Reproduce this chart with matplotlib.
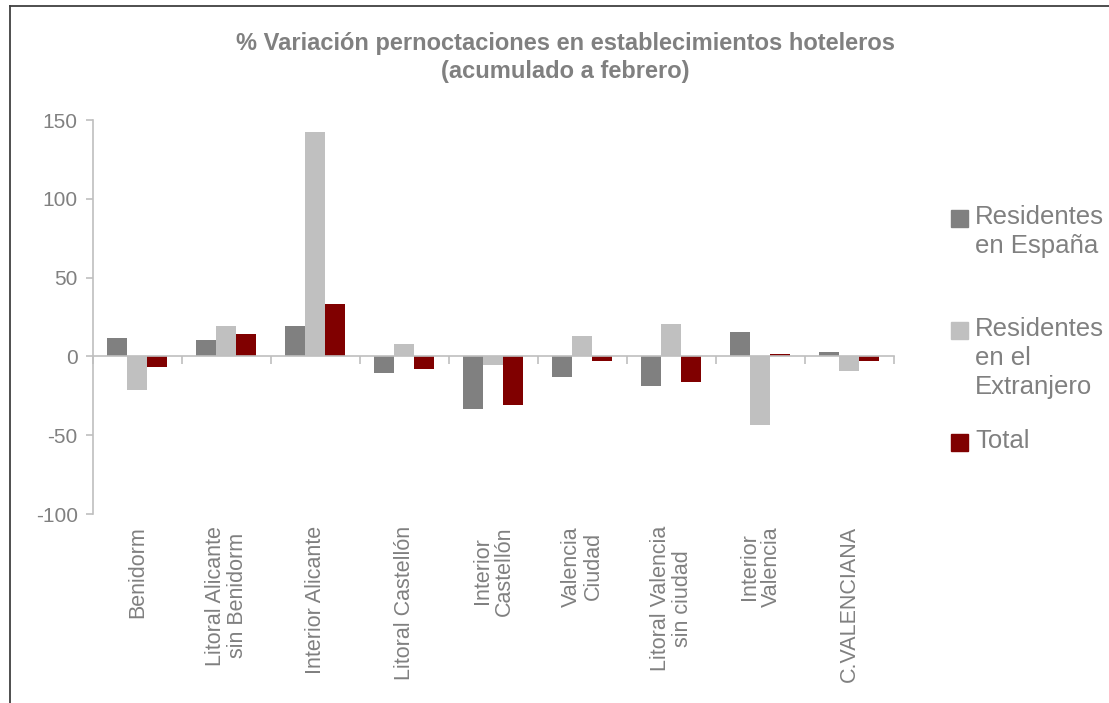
import numpy as np
import matplotlib
matplotlib.use("Agg")
import matplotlib.pyplot as plt
from matplotlib.lines import Line2D
from matplotlib.patches import Rectangle

plt.rcParams['font.family'] = ['Liberation Sans', 'DejaVu Sans']
plt.rcParams['axes.unicode_minus'] = False

# Data
categories = ['Benidorm', 'Litoral Alicante\nsin Benidorm', 'Interior Alicante',
              'Litoral Castellón', 'Interior\nCastellón', 'Valencia\nCiudad',
              'Litoral Valencia\nsin ciudad', 'Interior\nValencia', 'C.VALENCIANA']
residentes_espana = [11.4, 10.2, 19.1, -10.6, -33.5, -13.1, -18.9, 15.3, 2.5]
residentes_extranjero = [-21.4, 19.1, 142.4, 7.6, -5.5, 12.7, 20.3, -43.7, -9.3]
total = [-6.8, 14.0, 33.0, -8.0, -31.0, -3.0, -16.3, 1.3, -3.0]
series_names = ['Residentes\nen España', 'Residentes\nen el\nExtranjero', 'Total']
colors = ['#808080', '#C0C0C0', '#800000']
yticks = [-100, -50, 0, 50, 100, 150]

W, H = 1109, 703
fig = plt.figure(figsize=(W / 100, H / 100), dpi=100)
ax = fig.add_axes([93 / W, 1 - 514 / H, 801 / W, 394 / H])

x = np.arange(len(categories))
width = 0.225
offsets = [-0.235, -0.01, 0.215]
for vals, off, c in zip([residentes_espana, residentes_extranjero, total], offsets, colors):
    ax.bar(x + off, vals, width=width, color=c, zorder=1)

ax.set_xlim(-0.5, len(categories) - 0.5)
ax.set_ylim(-100, 150)
ax.set_yticks(yticks)
ax.tick_params(axis='y', colors='#BFBFBF', labelcolor='#808080', labelsize=15,
               length=5, width=1.2, direction='out', pad=6)

# x axis at zero with ticks at category boundaries
ax.spines['bottom'].set_position(('data', 0))
ax.set_xticks(np.arange(len(categories) + 1) - 0.5)
ax.set_xticklabels([])
ax.tick_params(axis='x', colors='#BFBFBF', length=6, width=1.2, direction='out')
for s in ['top', 'right']:
    ax.spines[s].set_visible(False)
for s in ['left', 'bottom']:
    ax.spines[s].set_color('#BFBFBF')
    ax.spines[s].set_linewidth(1.2)

# category labels below the plot area
for xi, lab in zip(x, categories):
    ax.text(xi, -12 / 394, lab, transform=ax.get_xaxis_transform(), rotation=90,
            ha='center', va='top', multialignment='center', fontsize=15.5,
            color='#808080', linespacing=1.1)

# Title
fig.text(565 / W, 1 - 57.5 / H,
         '% Variación pernoctaciones en establecimientos hoteleros\n(acumulado a febrero)',
         ha='center', va='center', fontsize=17, fontweight='bold', color='#808080',
         linespacing=1.3)

# Legend
leg_y = [210, 322, 434]
for yy, name, c in zip(leg_y, series_names, colors):
    fig.patches.append(Rectangle((951 / W, 1 - (yy + 17) / H), 17 / W, 17 / H,
                                 transform=fig.transFigure, color=c))
    fig.text(975 / W, 1 - (yy - 5) / H, name, ha='left', va='top',
             fontsize=18.5, color='#808080', linespacing=1.25)

# Outer frame
fig.add_artist(Line2D([10 / W, 1], [1 - 6 / H, 1 - 6 / H], color='#404040', lw=1.3,
                      transform=fig.transFigure))
fig.add_artist(Line2D([10 / W, 10 / W], [0, 1 - 6 / H], color='#404040', lw=1.3,
                      transform=fig.transFigure))

fig.savefig('out.png', dpi=100)
